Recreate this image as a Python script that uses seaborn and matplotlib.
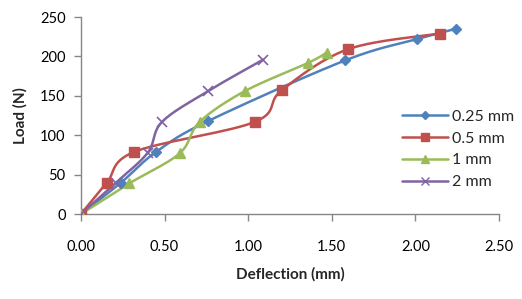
import numpy as np
import pandas as pd
import matplotlib
matplotlib.use("Agg")
import matplotlib.pyplot as plt
import seaborn as sns

series_names = ["0.25 mm", "0.5 mm", "1 mm", "2 mm"]
x_025 = [0.0, 0.24, 0.45, 0.76, 1.58, 2.01, 2.24]
y_025 = [0, 40, 79, 118, 195, 222, 235]
x_05 = [0.0, 0.155, 0.32, 1.04, 1.20, 1.595, 2.145]
y_05 = [0, 40, 79, 117, 157, 209, 229]
x_1 = [0.0, 0.29, 0.59, 0.71, 0.98, 1.36, 1.47]
y_1 = [0, 39, 77, 117, 156, 192, 205]
x_2 = [0.0, 0.21, 0.40, 0.485, 0.76, 1.09]
y_2 = [0, 40, 78, 117, 156, 196]

colors = ["#4F81BD", "#C0504D", "#9BBB59", "#8064A2"]
markers = ["D", "s", "^", "x"]
msizes = [5, 7.5, 7.5, 7]

sns.set_theme(style="white")
plt.rcParams["font.family"] = ["Lato", "DejaVu Sans"]

fig = plt.figure(figsize=(5.22, 2.99), dpi=100)
ax = fig.add_axes([0.155, 0.284, 0.801, 0.659])

# pixel scale for Excel-like smoothing
sx, sy = 167.2, 0.788


def smooth(xs, ys, n=30):
    px = np.array(xs) * sx
    py = np.array(ys) * sy
    pts = np.column_stack([px, py])
    m = len(pts)
    out = [pts[0]]
    for i in range(m - 1):
        p0 = pts[i - 1] if i > 0 else pts[i]
        p1 = pts[i]
        p2 = pts[i + 1]
        p3 = pts[i + 2] if i + 2 < m else pts[i + 1]
        c1 = p1 + (p2 - p0) / 6.0
        c2 = p2 - (p3 - p1) / 6.0
        t = np.linspace(0, 1, n)[1:, None]
        b = ((1 - t) ** 3) * p1 + 3 * ((1 - t) ** 2) * t * c1 + 3 * (1 - t) * t ** 2 * c2 + t ** 3 * p2
        out.extend(b)
    out = np.array(out)
    return out[:, 0] / sx, out[:, 1] / sy


all_x = [x_025, x_05, x_1, x_2]
all_y = [y_025, y_05, y_1, y_2]
handles = []
for name, xs, ys, c, mk, ms in zip(series_names, all_x, all_y, colors, markers, msizes):
    cx, cy = smooth(xs, ys)
    df_line = pd.DataFrame({"x": cx, "y": cy})
    sns.lineplot(data=df_line, x="x", y="y", sort=False, color=c, lw=1.8, ax=ax, estimator=None)
    df_pts = pd.DataFrame({"x": xs, "y": ys})
    if mk == "x":
        ax.plot(df_pts["x"], df_pts["y"], ls="none", marker=mk, ms=ms, mec=c, mew=1.2, zorder=3)
    else:
        ax.plot(df_pts["x"], df_pts["y"], ls="none", marker=mk, ms=ms, mfc=c, mec=c, zorder=3)
    h, = ax.plot([], [], color=c, lw=1.8, marker=mk, ms=ms * 0.8, mfc=c, mec=c, mew=1.0)
    handles.append(h)

ax.set_xlim(0, 2.5)
ax.set_ylim(0, 250)
ax.set_xticks(np.arange(0, 2.51, 0.5))
ax.set_xticklabels([f"{v:.2f}" for v in np.arange(0, 2.51, 0.5)])
ax.set_yticks(np.arange(0, 251, 50))
for s in ["top", "right"]:
    ax.spines[s].set_visible(False)
for s in ["left", "bottom"]:
    ax.spines[s].set_color("#868686")
    ax.spines[s].set_linewidth(1.0)
ax.tick_params(axis="both", which="both", direction="out", length=5, width=1.0,
               color="#868686", labelsize=10.5, labelcolor="black", left=True, bottom=True)
ax.tick_params(axis="x", pad=14)
ax.tick_params(axis="y", pad=6)
ax.set_xlabel("Deflection (mm)", fontsize=11, fontweight="bold", labelpad=9)
ax.set_ylabel("Load (N)", fontsize=11, fontweight="bold", labelpad=9)

leg = fig.legend(handles, series_names, loc="upper left", bbox_to_anchor=(0.757, 0.655),
                 frameon=False, fontsize=11.5, handlelength=2.9, handletextpad=0.25,
                 labelspacing=0.48, borderaxespad=0)

fig.savefig("out.png", dpi=100)
